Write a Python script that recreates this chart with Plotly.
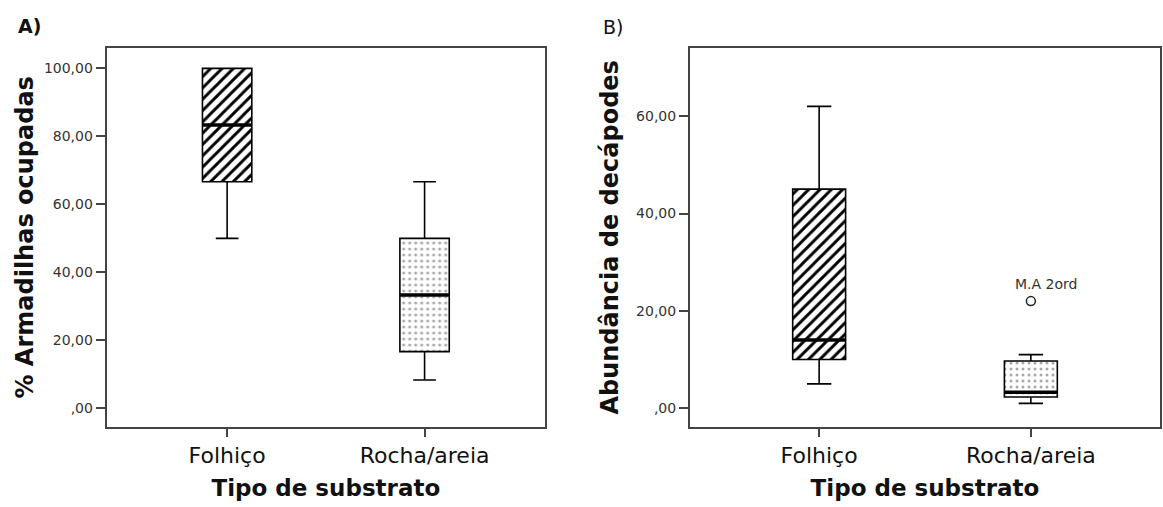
import plotly.graph_objects as go

# ---------------- data ----------------
categories = ["Folhiço", "Rocha/areia"]
cat_pos = [0, 1]

# Panel A: % Armadilhas ocupadas
a_lower = [50.0, 8.33]
a_q1 = [66.67, 16.67]
a_median = [83.33, 33.33]
a_q3 = [100.0, 50.0]
a_upper = [100.0, 66.67]

# Panel B: Abundância de decápodes
b_lower = [5.0, 1.0]
b_q1 = [10.0, 2.3]
b_median = [14.0, 3.3]
b_q3 = [45.0, 9.7]
b_upper = [62.0, 11.0]
b_outlier_cat = [1]
b_outlier_val = [22.0]
b_outlier_label = ["M.A 2ord"]

a_tickvals = [0, 20, 40, 60, 80, 100]
a_ticktext = [",00", "20,00", "40,00", "60,00", "80,00", "100,00"]
b_tickvals = [0, 20, 40, 60]
b_ticktext = [",00", "20,00", "40,00", "60,00"]

# ---------------- style ----------------
W, H = 1163, 507
BOX_W = 0.25
FRAME = "#444444"
FONT = "DejaVu Sans"
pattern_shapes = ["/", "."]
pattern_fg = ["#000000", "#a8a8a8"]
pattern_size = [8, 6]
pattern_solid = [0.36, 0.2]


def add_panel(fig, xa, ya, lower, q1, med, q3, upper):
    xr = "x" if xa == 1 else f"x{xa}"
    yr = "y" if ya == 1 else f"y{ya}"
    fig.add_trace(go.Bar(
        x=cat_pos, y=[b - a for a, b in zip(q1, q3)], base=q1, width=BOX_W,
        marker=dict(color="white", line=dict(width=0),
                    pattern=dict(shape=pattern_shapes, fgcolor=pattern_fg,
                                 fgopacity=1, bgcolor="white",
                                 size=pattern_size, solidity=pattern_solid)),
        xaxis=xr, yaxis=yr, showlegend=False, hoverinfo="skip"))
    fig.add_trace(go.Box(
        x=cat_pos, q1=q1, median=med, q3=q3, lowerfence=lower, upperfence=upper,
        width=BOX_W, whiskerwidth=0.46, fillcolor="rgba(0,0,0,0)",
        line=dict(color="black", width=1.6), boxpoints=False,
        xaxis=xr, yaxis=yr, showlegend=False))
    mx, my = [], []
    for p, m in zip(cat_pos, med):
        mx += [p - BOX_W / 2, p + BOX_W / 2, None]
        my += [m, m, None]
    fig.add_trace(go.Scatter(x=mx, y=my, mode="lines",
                             line=dict(color="black", width=3.5),
                             xaxis=xr, yaxis=yr, showlegend=False, hoverinfo="skip"))


fig = go.Figure()
add_panel(fig, 1, 1, a_lower, a_q1, a_median, a_q3, a_upper)
add_panel(fig, 2, 2, b_lower, b_q1, b_median, b_q3, b_upper)

fig.add_trace(go.Scatter(
    x=b_outlier_cat, y=b_outlier_val, mode="markers",
    marker=dict(symbol="circle-open", size=9, color="#222",
                line=dict(width=1.5, color="#222")),
    xaxis="x2", yaxis="y2", showlegend=False))
for xc, yv, lab in zip(b_outlier_cat, b_outlier_val, b_outlier_label):
    fig.add_annotation(x=xc, y=yv, xref="x2", yref="y2", text=lab,
                       showarrow=False, xanchor="left", yanchor="bottom",
                       xshift=-18, yshift=7,
                       font=dict(family=FONT, size=14, color="#333"))

y_dom = [1 - 426.7 / H, 1 - 48 / H]
common_x = dict(range=[-0.61, 1.61], tickmode="array", tickvals=cat_pos,
                ticktext=categories, showline=True, mirror=True,
                linecolor=FRAME, linewidth=2, ticks="outside", ticklen=8,
                tickwidth=1.5, tickcolor=FRAME, showgrid=False, zeroline=False,
                tickfont=dict(family=FONT, size=22, color="#111"),
                title=dict(text="Tipo de substrato", standoff=13,
                           font=dict(family=FONT, size=23, color="#111",
                                     weight="bold")))
common_y = dict(showline=True, mirror=True, linecolor=FRAME, linewidth=2,
                ticks="outside", ticklen=9, tickwidth=1.5, tickcolor=FRAME,
                showgrid=False, zeroline=False, tickmode="array",
                tickfont=dict(family=FONT, size=14, color="#333"))

fig.update_layout(
    width=W, height=H, margin=dict(l=0, r=0, t=0, b=0),
    paper_bgcolor="white", plot_bgcolor="white",
    barmode="overlay",
    xaxis=dict(domain=[106.7 / W, 545 / W], anchor="y", **common_x),
    xaxis2=dict(domain=[690 / W, 1160 / W], anchor="y2", **common_x),
    yaxis=dict(domain=y_dom, anchor="x", range=[-5.4, 106],
               tickvals=a_tickvals, ticktext=a_ticktext,
               title=dict(text="% Armadilhas ocupadas", standoff=3,
                          font=dict(family=FONT, size=24, color="#111",
                                    weight="bold")),
               **common_y),
    yaxis2=dict(domain=y_dom, anchor="x2", range=[-3.8, 74],
                tickvals=b_tickvals, ticktext=b_ticktext,
                title=dict(text="Abundância de decápodes", standoff=11,
                           font=dict(family=FONT, size=24, color="#111",
                                     weight="bold")),
                **common_y),
)

fig.add_annotation(x=29.5 / W, y=1 - 26 / H, xref="paper", yref="paper",
                   text="A)", showarrow=False, xanchor="center", yanchor="middle",
                   font=dict(family=FONT, size=19, color="#111", weight="bold"))
fig.add_annotation(x=613 / W, y=1 - 27 / H, xref="paper", yref="paper",
                   text="B)", showarrow=False, xanchor="center", yanchor="middle",
                   font=dict(family=FONT, size=19, color="#111"))

fig.write_html("out.html")
